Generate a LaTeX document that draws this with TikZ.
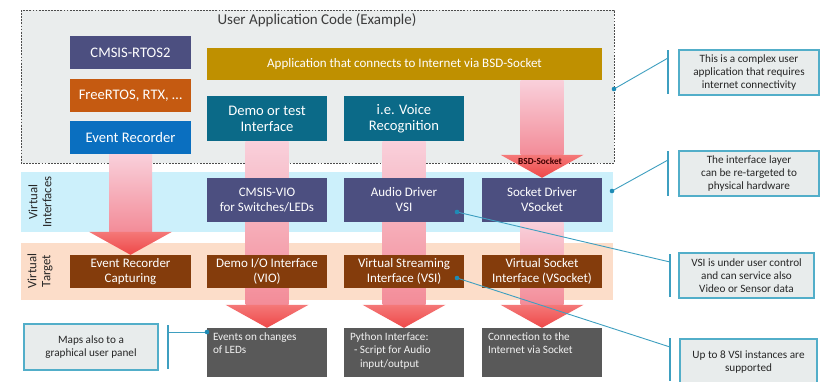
\documentclass[tikz,border=0pt]{standalone}
\usepackage{fontspec}
\setmainfont{Carlito}
\usetikzlibrary{calc}

\definecolor{cslate}{HTML}{4C4F80}
\definecolor{corange}{HTML}{C55A11}
\definecolor{cblue}{HTML}{0A6FC0}
\definecolor{cgold}{HTML}{BF9000}
\definecolor{cteal}{HTML}{0B6A88}
\definecolor{cbrown}{HTML}{843C0C}
\definecolor{cgrey}{HTML}{595959}
\definecolor{bandif}{HTML}{CCF0FB}
\definecolor{bandtg}{HTML}{FCDDC9}
\definecolor{appbg}{HTML}{EAEDED}
\definecolor{callfill}{HTML}{E8ECEC}
\definecolor{calldraw}{HTML}{52AEC9}
\definecolor{cline}{HTML}{3E9FC0}
\definecolor{cdot}{HTML}{1E8BB5}
\definecolor{ctext}{HTML}{262626}
\definecolor{shafttop}{HTML}{F9D0DB}
\definecolor{shaftbot}{HTML}{F38C98}
\definecolor{headtop}{HTML}{F47878}
\definecolor{headbot}{HTML}{EE4848}

\pgfdeclarelayer{back}
\pgfdeclarelayer{flow}
\pgfsetlayers{back,flow,main}

% fat downward arrow from the bottom of #1 to the top of #2
\newcommand\flowarrow[2]{%
  \path[shaftfill] let \p1=(#1), \p2=(#2) in
    (\x2-21.5pt,\y1) rectangle (\x2+21.5pt,\y2+23pt);
  \path[headfill] let \p2=(#2) in
    (\x2-41.5pt,\y2+23pt) -- (\x2+41.5pt,\y2+23pt) -- (\x2,\y2) -- cycle;
}

\begin{document}
\begin{tikzpicture}[x=1pt,y=-1pt,
  blk/.style={inner sep=0pt, text=white, align=center,
    minimum width=120, font=\fontsize{13}{15}\selectfont},
  bigblk/.style={blk, font=\fontsize{14.6}{16}\selectfont},
  outbox/.style={fill=cgrey, inner sep=0pt, minimum width=120,
    minimum height=49, text=white!95!black,
    font=\fontsize{11.2}{13.2}\selectfont},
  callout/.style={fill=callfill, draw=calldraw, line width=1.1pt,
    inner sep=0pt, text=ctext, align=center,
    font=\fontsize{11.2}{13.3}\selectfont},
  bar/.style={draw=cline, line width=1.3pt},
  lead/.style={draw=cline, line width=0.9pt},
  shaftfill/.style={top color=shafttop, bottom color=shaftbot},
  headfill/.style={top color=headtop, bottom color=headbot},
  sidelab/.style={rotate=90, align=center, text=ctext,
    font=\fontsize{12.8}{14}\selectfont}]

\useasboundingbox (0,0) rectangle (821,381);

% application frame and the two bands
\begin{pgfonlayer}{back}
  \fill[white] (0,0) rectangle (821,381);
  \draw[fill=appbg, draw=black!70, line width=0.9pt,
        dash pattern=on 1.8pt off 1.3pt] (21,10) rectangle (614,163);
  \fill[bandif] (21,172) rectangle (613,232);
  \fill[bandtg] (21,243) rectangle (613,300);
\end{pgfonlayer}

\node[text=ctext!90, font=\fontsize{15}{17}\selectfont] (title) at (317,20)
  {User Application Code (Example)};

% user application
\node[bigblk, fill=cslate, minimum width=121, minimum height=33] (rtos) at (130.5,52.5) {CMSIS-RTOS2};
\node[bigblk, fill=corange, minimum width=121, minimum height=33] (free) at (130.5,95.5) {FreeRTOS, RTX, \ldots};
\node[bigblk, fill=cblue, minimum width=121, minimum height=33] (evrec) at (130.5,137.5) {Event Recorder};
\node[blk, fill=cgold, minimum width=395, minimum height=32] (app) at (404.5,64)
  {Application that connects to Internet via BSD-Socket};
\node[bigblk, fill=cteal, minimum height=45] (demo) at (267,118.5) {Demo or test\\Interface};
\node[bigblk, fill=cteal, minimum height=45] (voice) at (404,118.5) {i.e. Voice\\Recognition};

% virtual interfaces
\node[sidelab] (vilab) at (40,202) {Virtual\\Interfaces};
\node[blk, fill=cslate, minimum height=44] (vio) at (267,200) {CMSIS-VIO\\for Switches/LEDs};
\node[blk, fill=cslate, minimum height=44] (audio) at (404,200) {Audio Driver\\VSI};
\node[blk, fill=cslate, minimum height=44] (sockdrv) at (542,200) {Socket Driver\\VSocket};

% virtual target
\node[sidelab] (vtlab) at (40,271) {Virtual\\Target};
\node[blk, fill=cbrown, minimum width=121, minimum height=33] (evcap) at (130.5,271.5) {Event Recorder\\Capturing};
\node[blk, fill=cbrown, minimum height=33] (viot) at (267,271.5) {Demo I/O Interface\\(VIO)};
\node[blk, fill=cbrown, minimum height=33] (vsi) at (404,271.5) {Virtual Streaming\\Interface (VSI)};
\node[blk, fill=cbrown, minimum height=33] (vsock) at (542,271.5) {Virtual Socket\\Interface (VSocket)};

% outputs
\node[outbox] (events) at (267,352.5)
  {\parbox[c][49pt][t]{108pt}{\vspace{5pt}\raggedright Events on changes\\of LEDs}};
\node[outbox] (python) at (404,352.5)
  {\parbox[c][49pt][t]{108pt}{\vspace{5pt}\raggedright Python Interface:\\\hspace*{4pt}- Script for Audio\\\hspace*{10pt}input/output}};
\node[outbox] (conn) at (542,352.5)
  {\parbox[c][49pt][t]{108pt}{\vspace{5pt}\raggedright Connection to the\\Internet via Socket}};

% flow arrows
\begin{pgfonlayer}{flow}
  \flowarrow{evrec.south}{evcap.north}
  \flowarrow{demo.south}{events.north}
  \flowarrow{voice.south}{python.north}
  \flowarrow{app.south}{sockdrv.north}
  \flowarrow{sockdrv.south}{conn.north}
\end{pgfonlayer}
\node[text=black!75!red, font=\bfseries\fontsize{9.3}{10}\selectfont] (bsd) at (540,161) {BSD-Socket};

% call-outs
\node[callout, minimum width=134, minimum height=46] (c0) at (91,347) {Maps also to a\\graphical user panel};
\node[callout, minimum width=140, minimum height=45] (c1) at (749,72.5) {This is a complex user\\application that requires\\internet connectivity};
\node[callout, minimum width=140, minimum height=45] (c2) at (749,173.5) {The interface layer\\can be re-targeted to\\physical hardware};
\node[callout, minimum width=135, minimum height=45] (c3) at (746.5,275.5) {VSI is under user control\\and can service also\\Video or Sensor data};
\node[callout, minimum width=137, minimum height=46] (c4) at (748.5,362) {Up to 8 VSI instances are\\supported};

\coordinate (b0) at (168,332);  \coordinate (d0) at (207,332);
\coordinate (b1) at (668,58);   \coordinate (d1) at (614,89);
\coordinate (b2) at (668,160);  \coordinate (d2) at (612,191);
\coordinate (b3) at (670,262);  \coordinate (d3) at (457,212);
\coordinate (b4) at (670,347);  \coordinate (d4) at (457,278);

\draw[bar] (168,325) -- (168,369);
\draw[bar] (668,50) -- (668,94);
\draw[bar] (668,151) -- (668,196);
\draw[bar] (670,254) -- (670,297);
\draw[bar] (670,338) -- (670,381);

\foreach \i in {0,...,4} {
  \draw[lead] (b\i) -- (d\i);
  \fill[cdot] (d\i) circle (2.3);
}
\end{tikzpicture}
\end{document}
